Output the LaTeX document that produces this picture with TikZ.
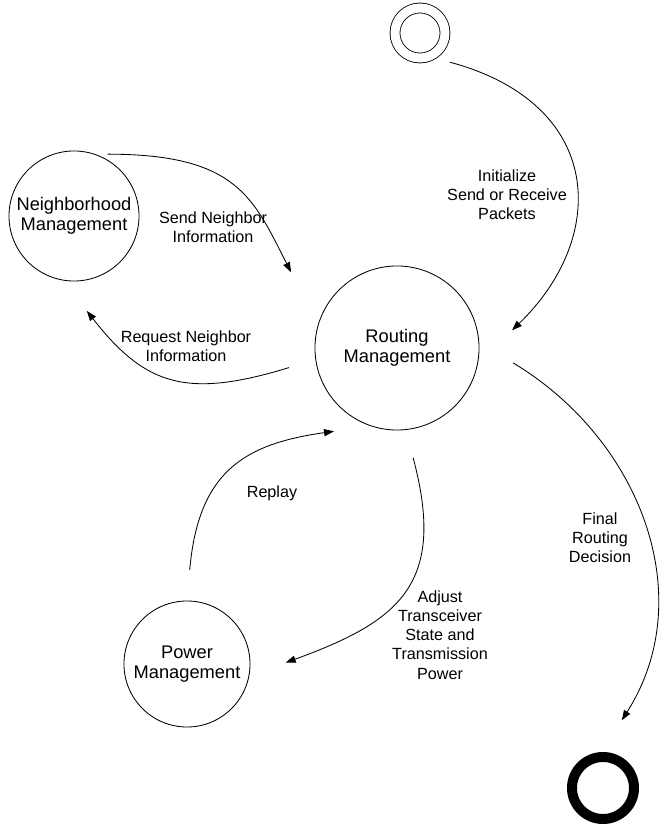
\documentclass[tikz,border=0pt]{standalone}
\usepackage{fontspec}
\setmainfont{Liberation Sans}
\usetikzlibrary{arrows.meta,positioning}

\begin{document}
\begin{tikzpicture}[
    x=0.025cm, y=0.025cm,
    state/.style={circle, draw, align=center, inner sep=0pt, outer sep=0pt, font=\fontsize{13}{14.6}\selectfont},
    startstate/.style={circle, draw, double, double distance=0.225cm, minimum size=1.25cm, inner sep=0pt, outer sep=0pt},
    endstate/.style={circle, draw, line width=0.25cm, minimum size=1.55cm, inner sep=0pt, outer sep=0pt},
    lbl/.style={align=center, font=\fontsize{11.5}{13.6}\selectfont},
    >={Triangle[length=0.25cm, width=0.18cm]}, line width=0.6pt
]
    \useasboundingbox (0,0) rectangle (666,825);

    % states
    \node[startstate] (start) at (420,792) {};
    \node[state, minimum size=3.25cm] (nbr) at (74,609) {Neighborhood\\Management};
    \node[state, minimum size=4.1cm] (route) at (397,477) {Routing\\Management};
    \node[state, minimum size=3.15cm] (power) at (187,161) {Power\\Management};
    \node[endstate] (stop) at (603,37) {};

    % transitions
    \draw[->, shorten <=0.55cm, shorten >=1.2cm] (start.-70) to[out=-15, in=44, looseness=1.5] (route.-11);
    \draw[->, shorten <=0.34cm, shorten >=1.49cm] (nbr.72) to[out=0, in=117, looseness=1.3] (route.164);
    \draw[->, shorten <=0.7cm, shorten >=0.98cm] (route.188) to[out=197, in=-52, looseness=1.3] (nbr.-100);
    \draw[->, shorten <=0.78cm, shorten >=0.95cm] (power.90) to[out=85, in=188, looseness=1.3] (route.-108.6);
    \draw[->, shorten <=0.73cm, shorten >=0.98cm] (route.-84) to[out=-75, in=20, looseness=1.4] (power.-11);
    \draw[->, shorten <=1cm, shorten >=1.1cm] (route.4.6) to[out=-31, in=57.5, looseness=1.12] (stop.99);

    % labels
    \node[lbl] (initTxt) at (507,630) {Initialize\\Send or Receive\\Packets};
    \node[lbl] (sendTxt) at (213,598) {Send Neighbor\\Information};
    \node[lbl] (reqTxt) at (186,479) {Request Neighbor\\Information};
    \node[lbl] (replayTxt) at (272,332) {Replay};
    \node[lbl] (adjustTxt) at (440,190) {Adjust\\Transceiver\\State and\\Transmission\\Power};
    \node[lbl] (finalTxt) at (600,287) {Final\\Routing\\Decision};
\end{tikzpicture}
\end{document}
